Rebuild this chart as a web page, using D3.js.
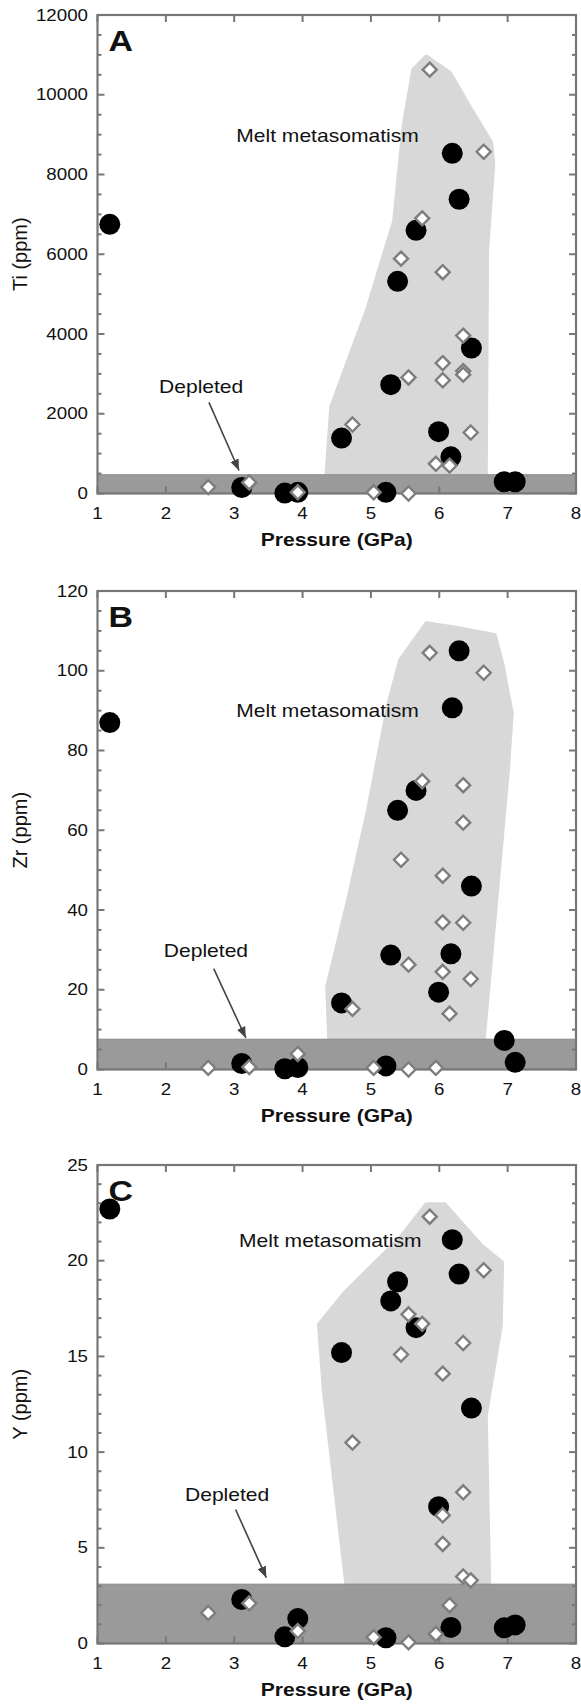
<!DOCTYPE html>
<html>
<head>
<meta charset="utf-8">
<script src="https://cdn.jsdelivr.net/npm/d3@7"></script>
<style>
  body { margin: 0; background: #fff; }
  svg { display: block; font-family: "Liberation Sans", Arial, sans-serif; }
</style>
</head>
<body>
<svg id="chart" width="581" height="1705"></svg>
<script>
// pressures (GPa) shared by the three panels
const pressureFilled = [1.18, 3.11, 3.74, 3.93, 4.57, 5.22, 5.29, 5.39, 5.66, 5.99, 6.17, 6.19, 6.29, 6.47, 6.95, 7.11]
const pressureOpen = [2.62, 3.22, 3.93, 4.73, 5.04, 5.44, 5.55, 5.55, 5.75, 5.86, 5.95, 6.05, 6.05, 6.05, 6.15, 6.35, 6.35, 6.35, 6.46, 6.65]

// Ti
const tiFilled = [6750, 150, 10, 30, 1390, 30, 2730, 5320, 6600, 1550, 920, 8530, 7380, 3650, 295, 295]
const tiOpen = [160, 277, 30, 1730, 30, 5890, 2910, 0, 6900, 10630, 745, 5550, 3270, 2840, 700, 3960, 3070, 2980, 1530, 8570]
// Zr
const zrFilled = [87, 1.5, 0.2, 0.5, 16.7, 0.9, 28.7, 65, 70, 19.4, 29, 90.7, 105, 46, 7.3, 1.8]
const zrOpen = [0.4, 0.6, 3.9, 15.2, 0.4, 52.6, 26.3, 0, 72.3, 104.5, 0.4, 48.6, 36.9, 24.5, 14.0, 71.3, 61.9, 36.8, 22.7, 99.5]
// Y
const yFilled = [22.7, 2.3, 0.35, 1.3, 15.2, 0.3, 17.9, 18.9, 16.5, 7.15, 0.84, 21.1, 19.3, 12.3, 0.82, 0.97]
const yOpen = [1.6, 2.1, 0.65, 10.5, 0.33, 15.1, 17.2, 0.06, 16.7, 22.3, 0.5, 14.1, 6.7, 5.2, 2.0, 15.7, 7.9, 3.5, 3.3, 19.5]

// melt metasomatism fields, [pressure, ppm]
const tiMelt = [[4.35, 470], [4.42, 2175], [4.94, 4590], [5.34, 6830], [5.48, 9240], [5.62, 10630], [5.81, 10960], [6.16, 10540], [6.46, 9650], [6.76, 8800], [6.79, 8260], [6.70, 6110], [6.68, 470]]
const zrMelt = [[4.39, 7.6], [4.36, 20.7], [4.66, 42.1], [4.96, 65.3], [5.26, 92], [5.43, 102.8], [5.81, 111.9], [6.24, 110.8], [6.81, 109], [6.92, 101.9], [7.06, 89.4], [7.0, 74.2], [6.65, 7.6]]
const yMelt = [[4.64, 3.1], [4.31, 13.25], [4.24, 16.66], [4.61, 18.3], [5.43, 21.2], [5.81, 22.95], [6.08, 22.95], [6.6, 20.85], [6.92, 19.9], [6.9, 16.6], [6.68, 11.9], [6.73, 3.1]]

// top of the depleted band
const depletedTop = [470, 7.6, 3.1]

const panelLetters = ["A", "B", "C"]
const yTitles = ["Ti (ppm)", "Zr (ppm)", "Y (ppm)"]
const yMax = [12000, 120, 25]
const yStep = [2000, 20, 5]
const yMinorStep = [500, 5, 1]
const xTicks = [1, 2, 3, 4, 5, 6, 7, 8]

// label anchors in data units
const meltLabelAt = [[3.03, 8820], [3.03, 88.4], [3.07, 20.7]]
const depletedLabelAt = [[1.9, 2510], [1.97, 28.1], [2.28, 7.46]]
const arrowFrom = [[2.63, 2285], [2.70, 25.3], [3.02, 7.0]]
const arrowTo = [[3.07, 577], [3.17, 7.9], [3.47, 3.44]]

const panels = [
    {filled: tiFilled, open: tiOpen, melt: tiMelt},
    {filled: zrFilled, open: zrOpen, melt: zrMelt},
    {filled: yFilled, open: yOpen, melt: yMelt}
]

const svg = d3.select("#chart")
const left = 97.5, right = 576, plotH = 478.5
const tops = [15, 591, 1165]
const stretch = 1.17 // the original figure is a bit wider than tall
const axisColor = "#777"

svg.append("defs").append("marker")
    .attr("id", "arrow")
    .attr("viewBox", "0 0 10 10")
    .attr("refX", 10).attr("refY", 5)
    .attr("markerWidth", 7).attr("markerHeight", 7)
    .attr("markerUnits", "strokeWidth")
    .attr("orient", "auto")
    .append("path")
    .attr("d", "M0,1 L10,5 L0,9 Z")
    .attr("fill", "#444")

function stext(g, x, y, str, size, anchor, weight) {
    return g.append("text")
        .attr("transform", "translate(" + x + "," + y + ") scale(" + stretch + ",1)")
        .attr("text-anchor", anchor || "start")
        .attr("font-size", size)
        .attr("font-weight", weight || "normal")
        .attr("fill", "#111")
        .text(str)
}

panels.forEach(function(p, i) {
    const top = tops[i], bottom = top + plotH
    const x = d3.scaleLinear().domain([1, 8]).range([left, right])
    const y = d3.scaleLinear().domain([0, yMax[i]]).range([bottom, top])
    const g = svg.append("g")

    // melt field
    g.append("path")
        .datum(p.melt)
        .attr("d", d3.line().x(d => x(d[0])).y(d => y(d[1])).curve(d3.curveLinearClosed))
        .attr("fill", "#d8d8d8")
        .attr("stroke", "#d8d8d8").attr("stroke-width", 4).attr("stroke-linejoin", "round")

    // depleted band
    g.append("rect")
        .attr("x", x(1)).attr("width", x(8) - x(1))
        .attr("y", y(depletedTop[i])).attr("height", y(0) - y(depletedTop[i]))
        .attr("fill", "#9a9a9a")
        .attr("stroke", "#8a8a8a").attr("stroke-width", 1)

    // frame
    g.append("rect")
        .attr("x", left).attr("y", top)
        .attr("width", right - left).attr("height", plotH)
        .attr("fill", "none").attr("stroke", axisColor).attr("stroke-width", 2.2)

    // ticks, inward on all four sides
    const yMajors = d3.range(0, yMax[i] + 1e-9, yStep[i])
    const yMinors = d3.range(0, yMax[i] + 1e-9, yMinorStep[i]).filter(v => Math.abs(v / yStep[i] - Math.round(v / yStep[i])) > 1e-6)
    yMinors.forEach(v => {
        g.append("line").attr("x1", left).attr("x2", left + 4).attr("y1", y(v)).attr("y2", y(v))
            .attr("stroke", axisColor).attr("stroke-width", 2)
        g.append("line").attr("x1", right).attr("x2", right - 4).attr("y1", y(v)).attr("y2", y(v))
            .attr("stroke", axisColor).attr("stroke-width", 2)
    })
    yMajors.forEach(v => {
        g.append("line").attr("x1", left).attr("x2", left + 7).attr("y1", y(v)).attr("y2", y(v))
            .attr("stroke", axisColor).attr("stroke-width", 2)
        g.append("line").attr("x1", right).attr("x2", right - 7).attr("y1", y(v)).attr("y2", y(v))
            .attr("stroke", axisColor).attr("stroke-width", 2)
        stext(g, left - 9.5, y(v) + 5.6, String(v), 16, "end")
    })
    xTicks.forEach(v => {
        g.append("line").attr("x1", x(v)).attr("x2", x(v)).attr("y1", bottom).attr("y2", bottom - 7)
            .attr("stroke", axisColor).attr("stroke-width", 2)
        g.append("line").attr("x1", x(v)).attr("x2", x(v)).attr("y1", top).attr("y2", top + 7)
            .attr("stroke", axisColor).attr("stroke-width", 2)
        stext(g, x(v), bottom + 25, String(v), 16, "middle")
    })

    // annotations
    stext(g, x(meltLabelAt[i][0]), y(meltLabelAt[i][1]), "Melt metasomatism", 18)
    stext(g, x(depletedLabelAt[i][0]), y(depletedLabelAt[i][1]), "Depleted", 18)
    g.append("line")
        .attr("x1", x(arrowFrom[i][0])).attr("y1", y(arrowFrom[i][1]))
        .attr("x2", x(arrowTo[i][0])).attr("y2", y(arrowTo[i][1]))
        .attr("stroke", "#444").attr("stroke-width", 1.6)
        .attr("marker-end", "url(#arrow)")

    // filled circles
    g.selectAll(".dot")
        .data(p.filled)
        .enter().append("circle")
        .attr("class", "dot")
        .attr("cx", (d, k) => x(pressureFilled[k]))
        .attr("cy", d => y(d))
        .attr("r", 10.5)
        .attr("fill", "#000")

    // open diamonds
    g.selectAll(".diamond")
        .data(p.open)
        .enter().append("path")
        .attr("class", "diamond")
        .attr("transform", (d, k) => "translate(" + x(pressureOpen[k]) + "," + y(d) + ")")
        .attr("d", "M0,-7 L7,0 L0,7 L-7,0 Z")
        .attr("fill", "#fff")
        .attr("stroke", "#7d7d7d")
        .attr("stroke-width", 2.4)

    // panel letter
    stext(g, left + 11, top + 36, panelLetters[i], 29, "start", "bold")

    // axis titles
    stext(g, (left + right) / 2, bottom + 52, "Pressure (GPa)", 18, "middle", "bold")
    g.append("text")
        .attr("transform", "translate(27," + (top + plotH / 2) + ") rotate(-90)")
        .attr("text-anchor", "middle")
        .attr("font-size", 20)
        .attr("fill", "#111")
        .text(yTitles[i])
})
</script>
</body>
</html>
